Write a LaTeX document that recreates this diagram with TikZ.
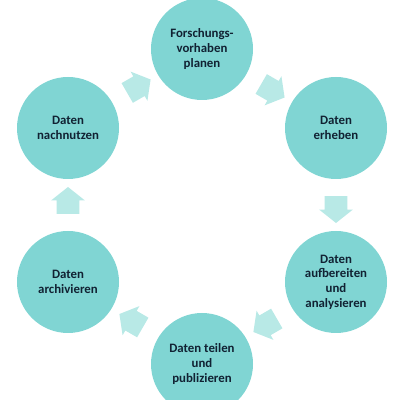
\documentclass[tikz,border=0pt]{standalone}
\usepackage{fontspec}
\setmainfont{Carlito}
\usepackage{tikz}
\usetikzlibrary{shapes.arrows}
\usetikzlibrary{calc}
\definecolor{kreis}{HTML}{80D5D3}
\definecolor{pfeil}{HTML}{B8E9E6}
\definecolor{schrift}{HTML}{112233}
\tikzset{k/.style={circle,fill=kreis,minimum size=2.04cm,inner sep=0pt,align=center,text=schrift,font=\fontsize{7.3}{8.3}\selectfont\bfseries}}
\tikzset{p/.style={single arrow,fill=pfeil,minimum height=0.54cm,inner xsep=0pt,inner ysep=0.22cm,single arrow head extend=0.11cm,single arrow tip angle=103}}

\begin{document}
\begin{tikzpicture}
          \useasboundingbox (0,0) rectangle (8,8);
          \node[k] (A) at (4.04,7.02) {Forschungs-\\vorhaben\\planen};
          \node[k] (B) at (6.72,5.44) {Daten\\erheben};
          \node[k] (C) at (6.72,2.36) {Daten\\aufbereiten\\und\\analysieren};
          \node[k] (D) at (4.04,0.72) {Daten teilen\\und\\publizieren};
          \node[k] (E) at (1.36,2.36) {Daten\\archivieren};
          \node[k] (F) at (1.36,5.44) {Daten\\nachnutzen};
          \node[p,rotate=-30] (AB) at ($(A)!0.5!(B)$) {};
          \node[p,rotate=-90] (BC) at ($(B)!0.5!(C)$) {};
          \node[p,rotate=-150] (CD) at ($(C)!0.5!(D)$) {};
          \node[p,rotate=150] (DE) at ($(D)!0.5!(E)$) {};
          \node[p,rotate=90] (EF) at ($(E)!0.5!(F)$) {};
          \node[p,rotate=30] (FA) at ($(F)!0.5!(A)$) {};
        \end{tikzpicture}
\end{document}
